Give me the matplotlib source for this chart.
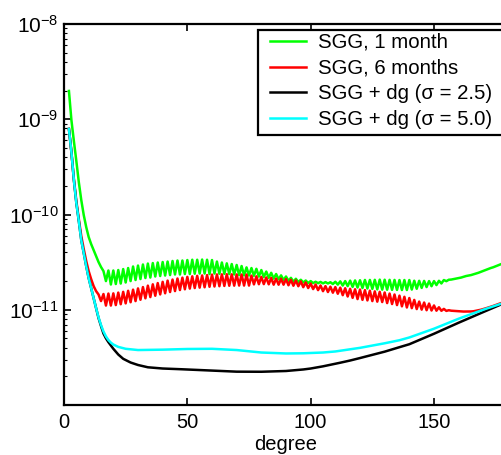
import numpy as np
import matplotlib
matplotlib.use('Agg')
import matplotlib.pyplot as plt
from matplotlib.ticker import LogLocator, NullFormatter
from matplotlib.patches import Rectangle

plt.rcParams['font.family'] = ['Liberation Sans', 'DejaVu Sans']
plt.rcParams['font.size'] = 14.5

# log10 of the curves, one value per degree starting at degree 2
green_log10 = [
    -8.703, -9.008, -9.228, -9.438, -9.659, -9.848, -10.005, -10.131, -10.236, -10.310,   # 2-11
    -10.373, -10.436, -10.499, -10.551, -10.594, -10.699, -10.588, -10.735, -10.588, -10.730,  # 12-21
    -10.583, -10.725, -10.573, -10.714, -10.562, -10.699, -10.546, -10.688, -10.536, -10.678,  # 22-31
    -10.525, -10.667, -10.515, -10.662, -10.510, -10.651, -10.504, -10.646, -10.499, -10.641,  # 32-41
    -10.494, -10.636, -10.488, -10.630, -10.483, -10.630, -10.483, -10.625, -10.478, -10.625,  # 42-51
    -10.475, -10.622, -10.475, -10.620, -10.473, -10.620, -10.475, -10.625, -10.478, -10.620,  # 52-61
    -10.494, -10.622, -10.504, -10.623, -10.513, -10.625, -10.520, -10.630, -10.530, -10.636,  # 62-71
    -10.541, -10.639, -10.555, -10.641, -10.562, -10.644, -10.570, -10.652, -10.583, -10.657,  # 72-81
    -10.599, -10.665, -10.612, -10.673, -10.625, -10.681, -10.639, -10.688, -10.651, -10.696,  # 82-91
    -10.665, -10.705, -10.675, -10.709, -10.685, -10.714, -10.693, -10.720, -10.699, -10.720,  # 92-101
    -10.706, -10.721, -10.708, -10.723, -10.710, -10.724, -10.711, -10.730, -10.706, -10.736,  # 102-111
    -10.702, -10.746, -10.699, -10.752, -10.694, -10.760, -10.692, -10.767, -10.690, -10.772,  # 112-121
    -10.687, -10.777, -10.687, -10.781, -10.686, -10.786, -10.684, -10.789, -10.685, -10.790,  # 122-131
    -10.686, -10.791, -10.687, -10.792, -10.688, -10.793, -10.688, -10.793, -10.688, -10.788,  # 132-141
    -10.695, -10.780, -10.696, -10.771, -10.697, -10.762, -10.699, -10.753, -10.699, -10.741,  # 142-151
    -10.696, -10.724, -10.688, -10.700, -10.685, -10.683, -10.678, -10.672, -10.667, -10.662,  # 152-161
    -10.654, -10.646, -10.641, -10.636, -10.628, -10.621, -10.612, -10.602, -10.591, -10.583,  # 162-171
    -10.573, -10.562, -10.554, -10.544, -10.534, -10.523, -10.511, -10.499, -10.486,           # 172-180
]
red_log10 = [
    -9.102, -9.344, -9.627, -9.858, -10.047, -10.226, -10.362, -10.488, -10.594, -10.678,   # 2-11
    -10.751, -10.804, -10.840, -10.909, -10.835, -10.956, -10.830, -10.956, -10.828, -10.951,  # 12-21
    -10.820, -10.942, -10.812, -10.933, -10.801, -10.921, -10.789, -10.909, -10.776, -10.895,  # 22-31
    -10.762, -10.880, -10.747, -10.867, -10.733, -10.853, -10.720, -10.839, -10.707, -10.827,  # 32-41
    -10.694, -10.814, -10.683, -10.804, -10.672, -10.793, -10.663, -10.785, -10.655, -10.778,  # 42-51
    -10.649, -10.772, -10.644, -10.768, -10.640, -10.764, -10.636, -10.759, -10.631, -10.756,  # 52-61
    -10.629, -10.753, -10.628, -10.750, -10.627, -10.748, -10.628, -10.747, -10.629, -10.746,  # 62-71
    -10.630, -10.746, -10.630, -10.746, -10.642, -10.734, -10.649, -10.732, -10.655, -10.731,  # 72-81
    -10.661, -10.733, -10.666, -10.737, -10.673, -10.737, -10.674, -10.737, -10.678, -10.743,  # 82-91
    -10.685, -10.748, -10.692, -10.753, -10.702, -10.763, -10.713, -10.772, -10.725, -10.783,  # 92-101
    -10.735, -10.794, -10.745, -10.805, -10.752, -10.814, -10.758, -10.821, -10.762, -10.832,  # 102-111
    -10.768, -10.847, -10.774, -10.861, -10.780, -10.875, -10.785, -10.888, -10.788, -10.896,  # 112-121
    -10.794, -10.902, -10.800, -10.909, -10.807, -10.915, -10.812, -10.919, -10.819, -10.930,  # 122-131
    -10.830, -10.940, -10.840, -10.951, -10.852, -10.964, -10.864, -10.976, -10.877, -10.983,  # 132-141
    -10.897, -10.993, -10.914, -10.999, -10.924, -11.005, -10.935, -11.008, -10.955, -11.010,  # 142-151
    -10.974, -11.011, -10.991, -11.012, -11.005, -11.010, -11.012, -11.015, -11.017, -11.018,  # 152-161
    -11.019, -11.019, -11.019, -11.018, -11.016, -11.011, -11.006, -11.000, -10.993, -10.985,  # 162-171
    -10.977, -10.968, -10.960, -10.951, -10.941, -10.932, -10.922, -10.913, -10.903,           # 172-180
]

# smooth curves, read at selected degrees
black_deg = [2, 3, 4, 5, 6, 7, 8, 9, 10, 11, 12, 13, 14, 15, 16, 17, 18, 19, 20, 21, 22, 24, 27,
             30, 34, 40, 47, 55, 70, 80, 90, 97, 100, 105, 112, 116, 120, 130, 136, 140, 150,
             160, 170, 180]
black_log10 = [-9.102, -9.344, -9.638, -9.879, -10.068, -10.268, -10.404, -10.541, -10.667,
               -10.772, -10.877, -10.982, -11.087, -11.171, -11.250, -11.300, -11.340, -11.375,
               -11.410, -11.440, -11.470, -11.515, -11.554, -11.580, -11.604, -11.617, -11.624,
               -11.633, -11.650, -11.651, -11.643, -11.627, -11.617, -11.594, -11.556, -11.533,
               -11.507, -11.440, -11.393, -11.362, -11.252, -11.136, -11.024, -10.913]
cyan_deg = [2, 3, 4, 5, 6, 7, 8, 9, 10, 11, 12, 13, 14, 15, 16, 17, 18, 19, 20, 22, 25, 30, 40,
            50, 60, 70, 80, 90, 97, 105, 110, 120, 130, 136, 140, 150, 160, 170, 180]
cyan_log10 = [-9.102, -9.344, -9.638, -9.879, -10.068, -10.268, -10.404, -10.541, -10.667,
              -10.772, -10.877, -10.982, -11.080, -11.160, -11.228, -11.280, -11.318, -11.345,
              -11.365, -11.390, -11.410, -11.423, -11.419, -11.412, -11.410, -11.423, -11.449,
              -11.459, -11.457, -11.449, -11.438, -11.400, -11.352, -11.320, -11.291, -11.199,
              -11.094, -10.999, -10.913]

labels = ['SGG, 1 month', 'SGG, 6 months', u'SGG + dg (\u03c3 = 2.5)', u'SGG + dg (\u03c3 = 5.0)']
colors = ['#00ff00', '#ff0000', '#000000', '#00ffff']
xticks = [0, 50, 100, 150]
yticks = [1e-11, 1e-10, 1e-9, 1e-8]

W, H = 502., 455.
fig = plt.figure(figsize=(W/100, H/100), dpi=100)
# right edge of the axes sits just outside the picture, like the reference
ax = fig.add_axes([64/W, 50/H, 444/W, 381/H])

lw = 1.8
ax.plot(np.arange(2, 2 + len(green_log10)), 10.0**np.array(green_log10), color=colors[0], lw=lw, label=labels[0])
ax.plot(np.arange(2, 2 + len(red_log10)), 10.0**np.array(red_log10), color=colors[1], lw=lw, label=labels[1])
ax.plot(black_deg, 10.0**np.array(black_log10), color=colors[2], lw=lw, label=labels[2])
ax.plot(cyan_deg, 10.0**np.array(cyan_log10), color=colors[3], lw=lw, label=labels[3])

ax.set_yscale('log')
ax.set_xlim(0, 180)
ax.set_ylim(1e-12, 1e-8)
ax.set_xticks(xticks)
ax.set_yticks(yticks)
ax.yaxis.set_minor_locator(LogLocator(base=10, subs=np.arange(2, 10)))
ax.yaxis.set_minor_formatter(NullFormatter())
ax.tick_params(which='major', direction='in', length=5, width=1.2, top=True, right=True)
ax.tick_params(axis='x', pad=6)
ax.tick_params(axis='y', pad=4, labelsize=15)
ax.tick_params(which='minor', direction='in', length=2.5, width=0.8, right=True)
for sp in ax.spines.values():
    sp.set_linewidth(1.6)

ax.set_xlabel('degree', labelpad=2)

# legend box runs off the right edge in the reference, so draw the frame separately
box = Rectangle((258/W, 1 - 135/H), 260/W, 105/H, transform=fig.transFigure,
                facecolor='white', edgecolor='black', lw=1.6, zorder=5)
fig.patches.append(box)
leg = ax.legend(loc='upper left', bbox_to_anchor=(270/W, 1 - 33/H), bbox_transform=fig.transFigure,
                borderaxespad=0, frameon=False, handlelength=1.75, handletextpad=0.6,
                labelspacing=0.33, borderpad=0, fontsize=14.7)
leg.set_zorder(6)
fig.legends.append(leg)
ax.get_legend().remove()

fig.savefig('out.png', dpi=100)
